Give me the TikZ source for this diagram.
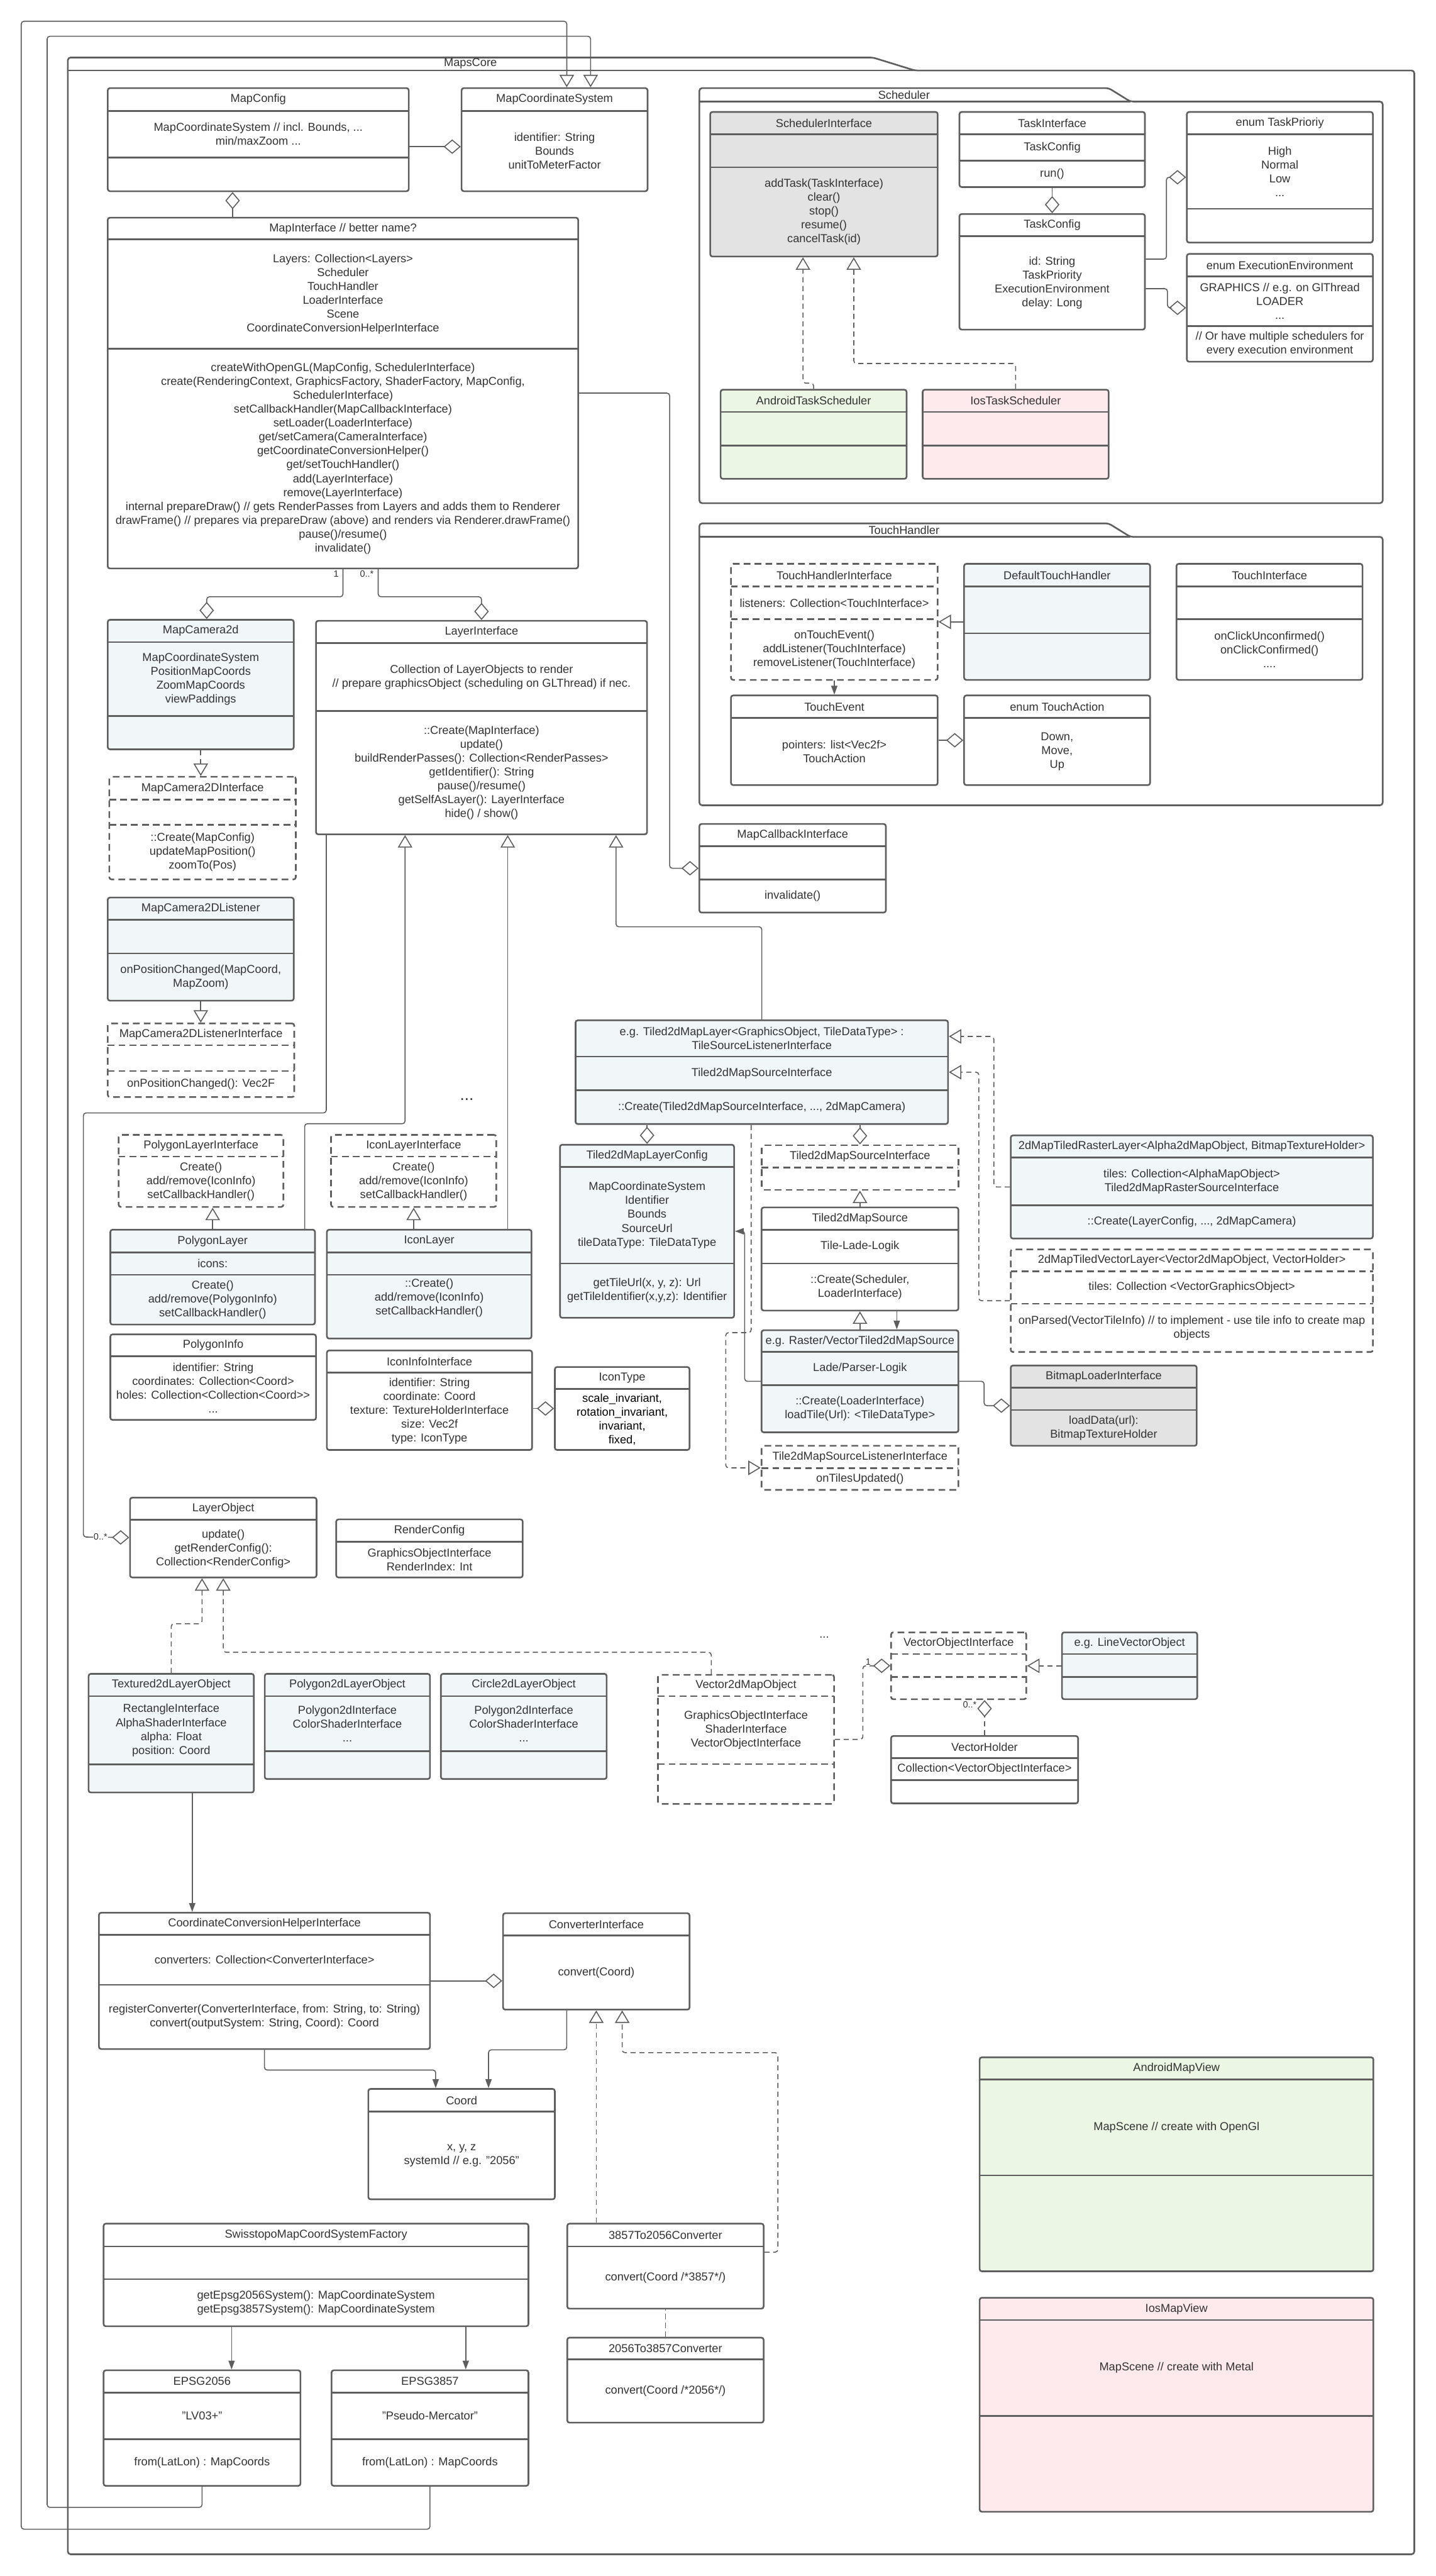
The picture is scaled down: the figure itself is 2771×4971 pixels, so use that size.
\documentclass[tikz,border=0pt]{standalone}
\usepackage{fontspec}
\setmainfont{Liberation Sans}
\usetikzlibrary{arrows.meta,fit}

\definecolor{linecol}{HTML}{5E5E5E}
\definecolor{txtcol}{HTML}{333333}
\definecolor{boxblue}{HTML}{F1F6F9}
\definecolor{boxgreen}{HTML}{ECF6E5}
\definecolor{boxpink}{HTML}{FEEAEC}
\definecolor{boxgrey}{HTML}{E3E3E3}

% class box: [style]{name}{x1}{x2}{y1}{divider 1}{divider 2}{y2}
\newcommand{\umlbox}[8][]{%
  \node[cls, #1, fit={(#3,#5) (#4,#8)}] (#2) {};
  \draw[sep, #1] (#3,#6) -- (#4,#6);
  \ifdim #7pt<#8pt\relax\draw[sep, #1] (#3,#7) -- (#4,#7);\fi
  \coordinate (#2-t) at ({(#3+#4)/2},{(#5+#6)/2});
  \coordinate (#2-a) at ({(#3+#4)/2},{(#6+#7)/2});
  \coordinate (#2-m) at ({(#3+#4)/2},{(#7+#8)/2});
}
% class texts: {name}{title}{attributes}{methods}
\newcommand{\umltext}[4]{%
  \node[txt] (#1-tt) at (#1-t) {#2};
  \node[txt] (#1-at) at (#1-a) {#3};
  \node[txt] (#1-mt) at (#1-m) {#4};
}

\begin{document}
\begin{tikzpicture}[
    x=0.01cm, y=-0.01cm,
    cls/.style={draw=linecol, fill=white, line width=0.9pt, rounded corners=1.2pt, inner sep=0pt},
    sep/.style={draw=linecol, line width=0.9pt},
    clsb/.style={fill=boxblue},
    clsg/.style={fill=boxgreen},
    clsp/.style={fill=boxpink},
    clsgr/.style={fill=boxgrey},
    iface/.style={dash pattern=on 1.3mm off 0.8mm},
    pkg/.style={draw=linecol, line width=0.9pt, rounded corners=1.5pt},
    txt/.style={font=\fontsize{6.3}{7.6}\selectfont, text=txtcol, align=center, inner sep=0pt},
    mult/.style={font=\fontsize{5}{6}\selectfont, text=txtcol, inner sep=0.5pt},
    con/.style={draw=linecol, line width=0.55pt, rounded corners=1.5pt},
    gen/.style={con, -{Triangle[open, length=2.4mm, width=2.8mm]}},
    real/.style={gen, dash pattern=on 1mm off 0.7mm},
    agg/.style={con, -{Diamond[open, length=3.3mm, width=2.8mm]}},
    aggd/.style={agg, dash pattern=on 1mm off 0.7mm},
    arr/.style={con, -{Triangle[length=1.7mm, width=1.2mm]}},
    dep/.style={con, dash pattern=on 1mm off 0.7mm},
]
\useasboundingbox (0,0) rectangle (2771,4971);

% ── Packages ─────────────────────────────────────────────────
\draw[pkg] (131,4929) -- (131,111) -- (1685,111) -- (1766,136) -- (2730,136) -- (2730,4929) -- cycle;
\draw[pkg] (131,136) -- (1766,136);
\node[txt] (MapsCoreLbl) at (908,123) {MapsCore};

\draw[pkg] (1350,971) -- (1350,170) -- (2140,170) -- (2182,196) -- (2669,196) -- (2669,971) -- cycle;
\draw[pkg] (1350,196) -- (2182,196);
\node[txt] (SchedulerLbl) at (1745,183) {Scheduler};

\draw[pkg] (1350,1554) -- (1350,1010) -- (2140,1010) -- (2182,1036) -- (2669,1036) -- (2669,1554) -- cycle;
\draw[pkg] (1350,1036) -- (2182,1036);
\node[txt] (TouchHandlerLbl) at (1745,1023) {TouchHandler};

% ── Map core classes ─────────────────────────────────────────
\umlbox{MapConfig}{208}{789}{170}{214}{304}{369}
\umltext{MapConfig}{MapConfig}{MapCoordinateSystem // incl. Bounds, ...\\min/maxZoom ...}{}
\umlbox{MCS}{891}{1250}{170}{214}{369}{369}
\umltext{MCS}{MapCoordinateSystem}{identifier: String\\Bounds\\unitToMeterFactor}{}
\umlbox{MapInterface}{208}{1116}{420}{462}{673}{1097}
\umltext{MapInterface}{MapInterface // better name?}
  {Layers: Collection<Layers>\\Scheduler\\TouchHandler\\LoaderInterface\\Scene\\CoordinateConversionHelperInterface}
  {createWithOpenGL(MapConfig, SchedulerInterface)\\create(RenderingContext, GraphicsFactory, ShaderFactory, MapConfig,\\SchedulerInterface)\\setCallbackHandler(MapCallbackInterface)\\setLoader(LoaderInterface)\\get/setCamera(CameraInterface)\\getCoordinateConversionHelper()\\get/setTouchHandler()\\add(LayerInterface)\\remove(LayerInterface)\\internal prepareDraw() // gets RenderPasses from Layers and adds them to Renderer\\drawFrame() // prepares via prepareDraw (above) and renders via Renderer.drawFrame()\\pause()/resume()\\invalidate()}

% ── Scheduler ────────────────────────────────────────────────
\umlbox[clsgr]{SchedIface}{1371}{1810}{216}{259}{323}{495}
\umltext{SchedIface}{SchedulerInterface}{}{addTask(TaskInterface)\\clear()\\stop()\\resume()\\cancelTask(id)}
\umlbox{TaskIface}{1852}{2210}{216}{259}{310}{361}
\umltext{TaskIface}{TaskInterface}{TaskConfig}{run()}
\umlbox{TaskConfig}{1852}{2210}{413}{456}{636}{636}
\umltext{TaskConfig}{TaskConfig}{id: String\\TaskPriority\\ExecutionEnvironment\\delay: Long}{}
\umlbox{TaskPrio}{2291}{2650}{216}{259}{403}{468}
\umltext{TaskPrio}{enum TaskPrioriy}{High\\Normal\\Low\\...}{}
\umlbox{ExecEnv}{2291}{2650}{490}{533}{629}{698}
\umltext{ExecEnv}{enum ExecutionEnvironment}{GRAPHICS // e.g. on GlThread\\LOADER\\...}{// Or have multiple schedulers for\\every execution environment}
\umlbox[clsg]{AndroidSched}{1391}{1750}{752}{795}{860}{924}
\umltext{AndroidSched}{AndroidTaskScheduler}{}{}
\umlbox[clsp]{IosSched}{1781}{2140}{752}{795}{860}{924}
\umltext{IosSched}{IosTaskScheduler}{}{}

% ── TouchHandler ─────────────────────────────────────────────
\umlbox[iface]{TouchHIface}{1411}{1810}{1088}{1132}{1195}{1312}
\umltext{TouchHIface}{TouchHandlerInterface}{listeners: Collection<TouchInterface>}{onTouchEvent()\\addListener(TouchInterface)\\removeListener(TouchInterface)}
\umlbox[clsb]{DefTouch}{1861}{2220}{1088}{1132}{1222}{1312}
\umltext{DefTouch}{DefaultTouchHandler}{}{}
\umlbox{TouchIface}{2271}{2630}{1088}{1132}{1195}{1312}
\umltext{TouchIface}{TouchInterface}{}{onClickUnconfirmed()\\onClickConfirmed()\\....}
\umlbox{TouchEvent}{1411}{1810}{1342}{1385}{1515}{1515}
\umltext{TouchEvent}{TouchEvent}{pointers: list<Vec2f>\\TouchAction}{}
\umlbox{TouchAction}{1861}{2220}{1342}{1385}{1515}{1515}
\umltext{TouchAction}{enum TouchAction}{Down,\\Move,\\Up}{}
\umlbox{MapCallback}{1350}{1710}{1590}{1633}{1697}{1761}
\umltext{MapCallback}{MapCallbackInterface}{}{invalidate()}

% ── Camera and layers ────────────────────────────────────────
\umlbox[clsb]{Camera}{208}{567}{1196}{1239}{1382}{1446}
\umltext{Camera}{MapCamera2d}{MapCoordinateSystem\\PositionMapCoords\\ZoomMapCoords\\viewPaddings}{}
\umlbox[iface]{CameraIface}{211}{571}{1499}{1543}{1592}{1697}
\umltext{CameraIface}{MapCamera2DInterface}{}{::Create(MapConfig)\\updateMapPosition()\\zoomTo(Pos)}
\umlbox{LayerIface}{610}{1249}{1198}{1241}{1372}{1610}
\umltext{LayerIface}{LayerInterface}{Collection of LayerObjects to render\\// prepare graphicsObject (scheduling on GLThread) if nec.}
  {::Create(MapInterface)\\update()\\buildRenderPasses(): Collection<RenderPasses>\\getIdentifier(): String\\pause()/resume()\\getSelfAsLayer(): LayerInterface\\hide() / show()}
\umlbox[clsb]{CamListener}{208}{567}{1732}{1775}{1840}{1931}
\umltext{CamListener}{MapCamera2DListener}{}{onPositionChanged(MapCoord,\\MapZoom)}
\umlbox[iface]{CamListenerIface}{208}{568}{1975}{2017}{2067}{2117}
\umltext{CamListenerIface}{MapCamera2DListenerInterface}{}{onPositionChanged(): Vec2F}

\umlbox[iface]{PolyLayerIface}{229}{547}{2190}{2232}{2232}{2329}
\umltext{PolyLayerIface}{PolygonLayerInterface}{}{Create()\\add/remove(IconInfo)\\setCallbackHandler()}
\umlbox[iface]{IconLayerIface}{639}{958}{2190}{2232}{2232}{2329}
\umltext{IconLayerIface}{IconLayerInterface}{}{Create()\\add/remove(IconInfo)\\setCallbackHandler()}
\umlbox[clsb]{PolyLayer}{213}{608}{2373}{2417}{2460}{2556}
\umltext{PolyLayer}{PolygonLayer}{icons:}{Create()\\add/remove(PolygonInfo)\\setCallbackHandler()}
\umlbox[clsb]{IconLayer}{631}{1026}{2373}{2417}{2460}{2583}
\umltext{IconLayer}{IconLayer}{}{}
\node[txt, yshift=0.165cm] (IconLayer-ops) at (IconLayer-m) {::Create()\\add/remove(IconInfo)\\setCallbackHandler()};
\umlbox{PolyInfo}{213}{610}{2575}{2617}{2740}{2740}
\umltext{PolyInfo}{PolygonInfo}{identifier: String\\coordinates: Collection<Coord>\\holes: Collection<Collection<Coord>{}>\\...}{}
\umlbox{IconInfo}{631}{1027}{2606}{2649}{2798}{2798}
\umltext{IconInfo}{IconInfoInterface}{identifier: String\\coordinate: Coord\\texture: TextureHolderInterface\\size: Vec2f\\type: IconType}{}
\umlbox{IconType}{1071}{1331}{2638}{2680}{2798}{2798}
\umltext{IconType}{IconType}{\color{black}scale\_invariant,\\\color{black}rotation\_invariant,\\\color{black}invariant,\\\color{black}fixed,}{}
\node[font=\fontsize{9}{10}\selectfont, text=txtcol] (LayerDots) at (901,2122) {...};

% ── Tiled layers and sources ─────────────────────────────────
\umlbox[clsb]{TiledLayer}{1111}{1830}{1969}{2039}{2104}{2169}
\umltext{TiledLayer}{e.g. Tiled2dMapLayer<GraphicsObject, TileDataType> :\\TileSourceListenerInterface}{Tiled2dMapSourceInterface}{::Create(Tiled2dMapSourceInterface, ..., 2dMapCamera)}
\umlbox[clsb]{LayerConfig}{1081}{1417}{2209}{2252}{2438}{2543}
\umltext{LayerConfig}{Tiled2dMapLayerConfig}{MapCoordinateSystem\\Identifier\\Bounds\\SourceUrl\\tileDataType: TileDataType}{getTileUrl(x, y, z): Url\\getTileIdentifier(x,y,z): Identifier}
\umlbox[iface]{SourceIface}{1470}{1850}{2210}{2253}{2296}{2296}
\umltext{SourceIface}{Tiled2dMapSourceInterface}{}{}
\umlbox{TiledSource}{1470}{1850}{2330}{2373}{2438}{2529}
\umltext{TiledSource}{Tiled2dMapSource}{Tile-Lade-Logik}{::Create(Scheduler,\\LoaderInterface)}
\umlbox[clsb]{RasterSource}{1470}{1850}{2567}{2609}{2673}{2764}
\umltext{RasterSource}{e.g. Raster/VectorTiled2dMapSource}{Lade/Parser-Logik}{::Create(LoaderInterface)\\loadTile(Url): <TileDataType>}
\umlbox[iface]{SourceListener}{1470}{1850}{2790}{2833}{2833}{2875}
\umltext{SourceListener}{Tile2dMapSourceListenerInterface}{}{onTilesUpdated()}
\umlbox[clsb]{RasterLayer}{1951}{2650}{2191}{2234}{2326}{2390}
\umltext{RasterLayer}{2dMapTiledRasterLayer<Alpha2dMapObject, BitmapTextureHolder>}{tiles: Collection<AlphaMapObject>\\Tiled2dMapRasterSourceInterface}{::Create(LayerConfig, ..., 2dMapCamera)}
\umlbox[iface]{VectorLayer}{1951}{2650}{2411}{2453}{2516}{2609}
\umltext{VectorLayer}{2dMapTiledVectorLayer<Vector2dMapObject, VectorHolder>}{tiles: Collection <VectorGraphicsObject>}{onParsed(VectorTileInfo) // to implement - use tile info to create map\\objects}
\umlbox[clsgr]{BitmapLoader}{1951}{2310}{2635}{2678}{2721}{2790}
\umltext{BitmapLoader}{BitmapLoaderInterface}{}{loadData(url):\\BitmapTextureHolder}

% ── Layer objects ────────────────────────────────────────────
\umlbox{LayerObject}{251}{611}{2890}{2933}{3044}{3044}
\umltext{LayerObject}{LayerObject}{update()\\getRenderConfig():\\Collection<RenderConfig>}{}
\umlbox{RenderConfig}{649}{1009}{2932}{2975}{3044}{3044}
\umltext{RenderConfig}{RenderConfig}{GraphicsObjectInterface\\RenderIndex: Int}{}
\umlbox[clsb]{Textured}{171}{490}{3230}{3273}{3405}{3459}
\umltext{Textured}{Textured2dLayerObject}{RectangleInterface\\AlphaShaderInterface\\alpha: Float\\position: Coord}{}
\umlbox[clsb]{Polygon2d}{511}{830}{3230}{3273}{3379}{3433}
\umltext{Polygon2d}{Polygon2dLayerObject}{Polygon2dInterface\\ColorShaderInterface\\...}{}
\umlbox[clsb]{Circle2d}{851}{1171}{3230}{3273}{3379}{3433}
\umltext{Circle2d}{Circle2dLayerObject}{Polygon2dInterface\\ColorShaderInterface\\...}{}
\umlbox[iface]{Vector2d}{1270}{1610}{3232}{3273}{3404}{3481}
\umltext{Vector2d}{Vector2dMapObject}{GraphicsObjectInterface\\ShaderInterface\\VectorObjectInterface}{}
\umlbox[iface]{VectorObjIface}{1720}{1981}{3150}{3192}{3236}{3279}
\umltext{VectorObjIface}{VectorObjectInterface}{}{}
\umlbox[clsb]{LineVector}{2050}{2311}{3150}{3192}{3236}{3279}
\umltext{LineVector}{e.g. LineVectorObject}{}{}
\umlbox{VectorHolder}{1720}{2081}{3350}{3393}{3435}{3480}
\umltext{VectorHolder}{VectorHolder}{Collection<VectorObjectInterface>}{}
\node[txt] (ObjectDots) at (1591,3160) {...};

% ── Coordinate conversion ────────────────────────────────────
\umlbox{ConvHelper}{191}{830}{3691}{3734}{3830}{3954}
\umltext{ConvHelper}{CoordinateConversionHelperInterface}{converters: Collection<ConverterInterface>}{registerConverter(ConverterInterface, from: String, to: String)\\convert(outputSystem: String, Coord): Coord}
\umlbox{ConvIface}{971}{1331}{3692}{3735}{3878}{3878}
\umltext{ConvIface}{ConverterInterface}{convert(Coord)}{}
\umlbox{Coord}{711}{1071}{4031}{4075}{4244}{4244}
\umltext{Coord}{Coord}{x, y, z\\systemId // e.g. "2056"}{}
\umlbox{Factory}{200}{1020}{4291}{4335}{4398}{4489}
\umltext{Factory}{SwisstopoMapCoordSystemFactory}{}{getEpsg2056System(): MapCoordinateSystem\\getEpsg3857System(): MapCoordinateSystem}
\umlbox{Epsg2056}{200}{580}{4574}{4617}{4707}{4797}
\umltext{Epsg2056}{EPSG2056}{"LV03+"}{from(LatLon) : MapCoords}
\umlbox{Epsg3857}{640}{1020}{4574}{4617}{4707}{4797}
\umltext{Epsg3857}{EPSG3857}{"Pseudo-Mercator"}{from(LatLon) : MapCoords}
\umlbox{Conv3857}{1095}{1474}{4291}{4335}{4455}{4455}
\umltext{Conv3857}{3857To2056Converter}{convert(Coord /*3857*/)}{}
\umlbox{Conv2056}{1095}{1474}{4511}{4553}{4675}{4675}
\umltext{Conv2056}{2056To3857Converter}{convert(Coord /*2056*/)}{}

% ── Platform views ───────────────────────────────────────────
\umlbox[clsg]{AndroidView}{1891}{2651}{3970}{4013}{4198}{4383}
\umltext{AndroidView}{AndroidMapView}{MapScene // create with OpenGl}{}
\umlbox[clsp]{IosView}{1891}{2651}{4434}{4477}{4662}{4847}
\umltext{IosView}{IosMapView}{MapScene // create with Metal}{}

% ── Connectors: map core ─────────────────────────────────────
\draw[gen] (Epsg2056.south) -- ++(0,40) -| (91,70) -| ([xshift=0.695cm]MCS.north);
\draw[gen] (Epsg3857.south) -- ++(0,82) -| (41,41) -| ([xshift=0.235cm]MCS.north);
\draw[agg] ([yshift=-0.135cm]MapConfig.east) -- ([yshift=-0.135cm]MCS.west);
\draw[agg] ([xshift=-0.495cm]MapConfig.south |- MapInterface.north) -- ([xshift=-0.495cm]MapConfig.south);
\draw[agg] (MapInterface.east) -- ++(175,0) |- (MapCallback.west);
\draw[agg] (MapInterface.south) -- ++(0,53) -| ([xshift=0.115cm]Camera.north);
\draw[agg] ([xshift=0.68cm]MapInterface.south) -- ++(0,53) -| (LayerIface.north);
\node[mult] (multCam) at (649,1107) {1};
\node[mult] (multLayer) at (708,1107) {0..*};

% ── Connectors: scheduler and touch ──────────────────────────
\draw[agg] (TaskIface.south) -- (TaskConfig.north);
\draw[agg] ([yshift=0.245cm]TaskConfig.east) -- ++(40,0) |- (TaskPrio.west);
\draw[agg] ([yshift=-0.325cm]TaskConfig.east) -- ++(42,0) |- (ExecEnv.west);
\draw[real] (AndroidSched.north) -- ++(0,-11) -| ([xshift=-0.405cm]SchedIface.south);
\draw[real] (IosSched.north) -- ++(0,-49) -| ([xshift=0.575cm]SchedIface.south);
\draw[gen] (DefTouch.west) -- (TouchHIface.east);
\draw[arr] (TouchHIface.south) -- (TouchEvent.north);
\draw[agg] (TouchEvent.east) -- (TouchAction.west);

% ── Connectors: camera and layers ────────────────────────────
\draw[real] (Camera.south) -- (Camera.south |- CameraIface.north);
\draw[gen] (CamListener.south) -- (CamListener.south |- CamListenerIface.north);
\draw[agg] ([xshift=-2.995cm]LayerIface.south) -- ++(0,536) -| (161,2966) -- (LayerObject.west);
\node[mult, fill=white] (multObj) at (194,2966) {0..*};
\draw[gen] ([xshift=1.775cm]PolyLayer.north) -- ++(0,-203) -| ([xshift=-1.475cm]LayerIface.south);
\draw[gen] ([xshift=1.515cm]IconLayer.north) -- ([xshift=1.515cm]IconLayer.north |- LayerIface.south);
\draw[gen] (TiledLayer.north) -- ++(0,-179) -| ([xshift=2.595cm]LayerIface.south);
\draw[gen] (PolyLayer.north) -- (PolyLayer.north |- PolyLayerIface.south);
\draw[gen] (IconLayerIface.south |- IconLayer.north) -- (IconLayerIface.south);
\draw[agg] (IconInfo.east |- IconType.west) -- (IconType.west);

% ── Connectors: tiled layers ─────────────────────────────────
\draw[agg] (LayerConfig.north |- TiledLayer.south) -- (LayerConfig.north);
\draw[agg] (SourceIface.north |- TiledLayer.south) -- (SourceIface.north);
\draw[gen] (TiledSource.north) -- (SourceIface.south);
\draw[gen] (RasterSource.north) -- (TiledSource.south);
\draw[arr] ([xshift=0.71cm]TiledSource.south) -- ([xshift=0.71cm]TiledSource.south |- RasterSource.north);
\draw[arr] (RasterSource.west) -- ++(-31,0) |- (LayerConfig.east);
\draw[real] ([xshift=-0.205cm]TiledLayer.south) -- ++(0,401) -- ++(-49,0) |- (SourceListener.west);
\draw[agg] (RasterSource.east) -- ++(48,0) |- (BitmapLoader.west);
\draw[real] (RasterLayer.west) -- ++(-31,0) |- ([yshift=0.69cm]TiledLayer.east);
\draw[real] (VectorLayer.west) -- ++(-60,0) |- (TiledLayer.east);

% ── Connectors: layer objects ────────────────────────────────
\draw[real] (Textured.north) -- ++(0,-95) -| ([xshift=-0.41cm]LayerObject.south);
\draw[real] ([xshift=-0.67cm]Vector2d.north) -- ++(0,-42) -| (LayerObject.south);
\draw[real] (LineVector.west) -- (VectorObjIface.east);
\draw[aggd] (Vector2d.east) -- ++(54,0) |- (VectorObjIface.west);
\draw[aggd] ([xshift=0.5cm]VectorObjIface.south |- VectorHolder.north) -- ([xshift=0.5cm]VectorObjIface.south);
\node[mult] (multVec) at (1676,3207) {1};
\node[mult] (multHolder) at (1872,3289) {0..*};

% ── Connectors: coordinate conversion ────────────────────────
\draw[arr] ([xshift=0.405cm]Textured.south) -- ([xshift=0.405cm]Textured.south |- ConvHelper.north);
\draw[agg] (ConvHelper.east) -- (ConvHelper.east -| ConvIface.west);
\draw[arr] (ConvHelper.south) -- ++(0,39) -| ([xshift=-0.5cm]Coord.north);
\draw[arr] ([xshift=-0.57cm]ConvIface.south) -- ++(0,76) -| ([xshift=0.52cm]Coord.north);
\draw[real] (ConvIface.south |- Conv3857.north) -- (ConvIface.south);
\draw[real] ([yshift=0.27cm]Conv3857.east) -- ++(26,0) -- ++(0,-385) -| ([xshift=0.5cm]ConvIface.south);
\draw[dep] (Conv2056.north) -- (Conv3857.south);
\draw[arr] ([xshift=0.57cm]Epsg2056.north |- Factory.south) -- ([xshift=0.57cm]Epsg2056.north);
\draw[arr] ([xshift=0.69cm]Epsg3857.north |- Factory.south) -- ([xshift=0.69cm]Epsg3857.north);

\end{tikzpicture}
\end{document}
